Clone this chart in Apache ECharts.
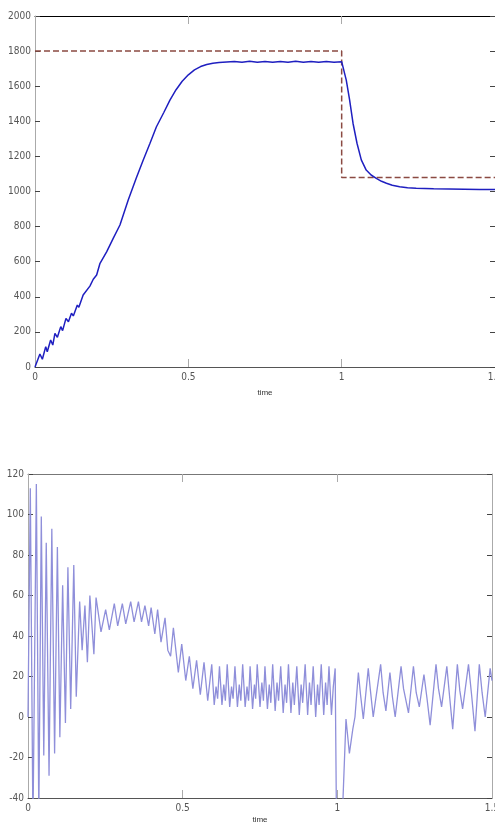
<!DOCTYPE html>
<html>
<head>
<meta charset="utf-8">
<script src="https://cdn.jsdelivr.net/npm/echarts@6.0.0/dist/echarts.min.js"></script>
<style>
  html, body { margin: 0; padding: 0; background: #fff; }
  #chart { width: 495px; height: 825px; }
</style>
</head>
<body>
<div id="chart"></div>
<script>
// speed response [time, rpm]
var speedCurve = [
  [0, 0], [0.003, 2], [0.016, 74], [0.024, 44], [0.035, 116], [0.04, 87],
  [0.051, 154], [0.058, 125], [0.065, 192], [0.073, 169], [0.084, 230], [0.09, 207],
  [0.101, 277], [0.109, 258], [0.119, 306], [0.125, 291], [0.138, 353], [0.143, 340],
  [0.157, 410], [0.162, 400], [0.179, 461], [0.19, 500], [0.201, 524], [0.212, 591],
  [0.234, 657], [0.255, 733], [0.277, 809], [0.304, 952], [0.33, 1075], [0.353, 1180],
  [0.375, 1275], [0.396, 1369], [0.42, 1450], [0.44, 1521], [0.46, 1580], [0.48, 1628],
  [0.5, 1665], [0.52, 1693], [0.54, 1712], [0.56, 1724], [0.58, 1731], [0.6, 1735],
  [0.625, 1738], [0.65, 1741], [0.675, 1737], [0.7, 1742], [0.725, 1737], [0.75, 1741],
  [0.775, 1736], [0.8, 1741], [0.825, 1737], [0.85, 1742], [0.875, 1737], [0.9, 1741],
  [0.925, 1736], [0.95, 1741], [0.975, 1737], [1.0, 1740], [1.015, 1635], [1.026, 1521],
  [1.037, 1389], [1.05, 1275], [1.064, 1180], [1.08, 1122], [1.096, 1094], [1.113, 1075],
  [1.13, 1058], [1.146, 1047], [1.165, 1036], [1.189, 1027], [1.215, 1022], [1.243, 1018],
  [1.3, 1015], [1.35, 1014], [1.4, 1013], [1.45, 1012], [1.5, 1012]
];

// speed reference (dashed)
var speedRef = [[0, 1800], [1, 1800], [1, 1080], [1.5, 1080]];

// torque [time, value]
var torqueCurve = [
  [0, 0], [0.0075, 113], [0.016, -55], [0.027, 115], [0.035, -50], [0.043, 99],
  [0.051, -19], [0.059, 86], [0.068, -29], [0.077, 93], [0.086, -18], [0.095, 84],
  [0.103, -10], [0.112, 65], [0.121, -3], [0.129, 74], [0.138, 4], [0.148, 75],
  [0.156, 10], [0.167, 57], [0.175, 33], [0.184, 55], [0.192, 27], [0.2, 60],
  [0.213, 31], [0.22, 59], [0.236, 42], [0.251, 53], [0.263, 43], [0.279, 56],
  [0.29, 45], [0.305, 56], [0.316, 46], [0.332, 57], [0.343, 47], [0.357, 57],
  [0.367, 47], [0.378, 55], [0.39, 45], [0.398, 54], [0.41, 41], [0.419, 53],
  [0.43, 37], [0.443, 49], [0.452, 33], [0.461, 30], [0.47, 44], [0.486, 22],
  [0.497, 36], [0.51, 18], [0.5215, 30], [0.533, 14], [0.545, 28], [0.557, 11],
  [0.569, 27], [0.581, 8],
  [0.594, 26], [0.602, 6], [0.608, 15], [0.613, 9],
  [0.619, 25], [0.627, 6], [0.633, 16], [0.638, 8],
  [0.644, 26], [0.652, 5], [0.658, 15], [0.663, 9],
  [0.669, 25], [0.677, 5], [0.683, 16], [0.688, 8],
  [0.694, 26], [0.702, 5], [0.708, 15], [0.713, 8],
  [0.718, 25], [0.726, 4], [0.732, 16], [0.736, 9],
  [0.741, 26], [0.75, 5], [0.756, 17], [0.761, 8],
  [0.766, 25], [0.774, 4], [0.78, 16], [0.785, 7],
  [0.791, 26], [0.799, 3], [0.805, 17], [0.81, 8],
  [0.817, 25], [0.825, 2], [0.831, 16], [0.836, 7],
  [0.842, 26], [0.85, 2], [0.856, 17], [0.861, 6],
  [0.869, 25], [0.877, 1], [0.883, 16], [0.888, 7],
  [0.896, 26], [0.904, 1], [0.91, 17], [0.915, 6],
  [0.922, 25], [0.93, 0], [0.936, 16], [0.941, 6],
  [0.948, 26], [0.956, 1], [0.962, 17], [0.967, 6],
  [0.973, 25], [0.981, 1], [0.987, 15], [0.993, 24],
  [0.998, -65], [1.008, -45], [1.013, -62], [1.028, -1], [1.039, -18], [1.05, -6],
  [1.057, 0], [1.068, 22], [1.075, 11], [1.084, -1], [1.1, 24], [1.107, 13],
  [1.116, 0], [1.14, 26], [1.148, 12], [1.157, 3], [1.17, 22], [1.178, 10],
  [1.187, 0], [1.206, 25], [1.214, 14], [1.23, 2], [1.246, 25], [1.255, 12],
  [1.265, 5], [1.28, 21], [1.29, 9], [1.3, -4], [1.319, 26], [1.327, 14],
  [1.337, 5], [1.354, 25], [1.363, 10], [1.373, -6], [1.388, 26], [1.396, 13],
  [1.405, 4], [1.424, 26], [1.434, 11], [1.445, -7], [1.459, 26], [1.468, 12],
  [1.478, 0], [1.494, 24], [1.5, 18]
];

var chart = echarts.init(document.getElementById('chart'));

var labelFont = {
  fontFamily: 'Liberation Sans Narrow, DejaVu Sans Condensed, sans-serif',
  fontSize: 10,
  color: '#555',
  formatter: function (v) { return String(v); }
};

function boxAxes(grid, pos, color) {
  return {
    type: 'value',
    gridIndex: grid,
    position: pos,
    axisLine: {show: true, onZero: false, lineStyle: {color: color, width: 1}},
    axisTick: {show: true, inside: true, length: 5, lineStyle: {color: '#444'}},
    axisLabel: {show: false},
    splitLine: {show: false}
  };
}

var xTop = boxAxes(0, 'top', '#000');
xTop.min = 0; xTop.max = 1.5; xTop.interval = 0.5;
xTop.axisTick.length = 8; xTop.axisTick.lineStyle.color = '#aaa';
var yRight = boxAxes(0, 'right', '#aaa');
yRight.min = 0; yRight.max = 2000; yRight.interval = 200;
yRight.axisLine.show = false;  // right edge sits just off the picture

var xTop2 = boxAxes(1, 'top', '#777');
xTop2.min = 0; xTop2.max = 1.5; xTop2.interval = 0.5;
xTop2.axisTick.length = 8; xTop2.axisTick.lineStyle.color = '#aaa';
var yRight2 = boxAxes(1, 'right', '#aaa');
yRight2.min = -40; yRight2.max = 120; yRight2.interval = 20;

chart.setOption({
  animation: false,
  backgroundColor: '#fff',
  grid: [
    {left: 35, top: 16, width: 460, height: 351, containLabel: false, outerBoundsMode: 'none'},
    {left: 28, top: 474, width: 464, height: 324, containLabel: false, outerBoundsMode: 'none'}
  ],
  xAxis: [
    {
      type: 'value', gridIndex: 0, min: 0, max: 1.5, interval: 0.5,
      name: 'time', nameLocation: 'middle', nameGap: 22,
      nameTextStyle: {fontSize: 8, color: '#333'},
      axisLine: {onZero: false, lineStyle: {color: '#555'}},
      axisTick: {inside: true, length: 8, lineStyle: {color: '#aaa'}},
      axisLabel: Object.assign({margin: 5}, labelFont),
      splitLine: {show: false}
    },
    xTop,
    {
      type: 'value', gridIndex: 1, min: 0, max: 1.5, interval: 0.5,
      name: 'time', nameLocation: 'middle', nameGap: 18,
      nameTextStyle: {fontSize: 8, color: '#333'},
      axisLine: {onZero: false, lineStyle: {color: '#555'}},
      axisTick: {inside: true, length: 8, lineStyle: {color: '#aaa'}},
      axisLabel: Object.assign({margin: 5}, labelFont),
      splitLine: {show: false}
    },
    xTop2
  ],
  yAxis: [
    {
      type: 'value', gridIndex: 0, min: 0, max: 2000, interval: 200,
      name: 'speed(rpm)', nameLocation: 'middle', nameGap: 21, nameRotate: 90,
      nameTextStyle: {fontSize: 8, color: '#333'},
      axisLine: {show: true, onZero: false, lineStyle: {color: '#aaa'}},
      axisTick: {show: true, inside: true, length: 5, lineStyle: {color: '#444'}},
      axisLabel: Object.assign({margin: 4}, labelFont),
      splitLine: {show: false}
    },
    yRight,
    {
      type: 'value', gridIndex: 1, min: -40, max: 120, interval: 20,
      name: 'torque', nameLocation: 'middle', nameGap: 18, nameRotate: 90,
      nameTextStyle: {fontSize: 8, color: '#333'},
      axisLine: {show: true, onZero: false, lineStyle: {color: '#aaa'}},
      axisTick: {show: true, inside: true, length: 5, lineStyle: {color: '#444'}},
      axisLabel: Object.assign({margin: 4}, labelFont),
      splitLine: {show: false}
    },
    yRight2
  ],
  series: [
    {
      name: 'reference', type: 'line', xAxisIndex: 0, yAxisIndex: 0,
      data: speedRef, showSymbol: false,
      lineStyle: {color: '#8b4a42', width: 1.5, type: [6, 3]}
    },
    {
      name: 'speed', type: 'line', xAxisIndex: 0, yAxisIndex: 0,
      data: speedCurve, showSymbol: false,
      lineStyle: {color: '#1f1fc0', width: 1.5}
    },
    {
      name: 'torque', type: 'line', xAxisIndex: 2, yAxisIndex: 2,
      data: torqueCurve, showSymbol: false, clip: true,
      lineStyle: {color: '#8f8fda', width: 1.3}
    }
  ]
});
</script>
</body>
</html>
